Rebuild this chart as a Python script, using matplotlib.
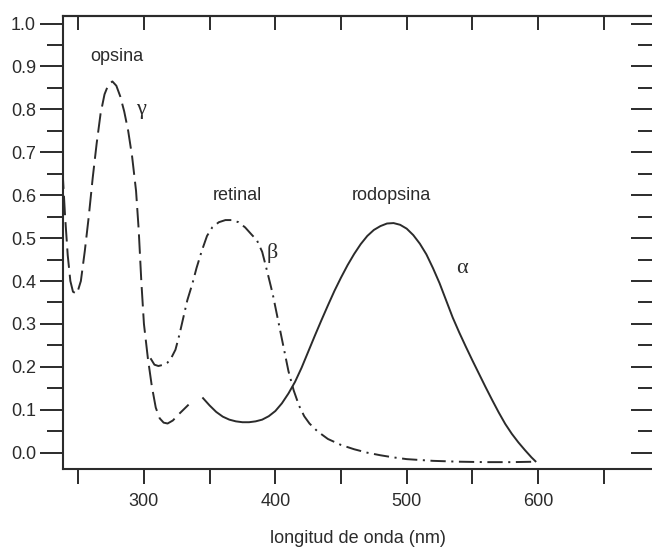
import matplotlib
matplotlib.use('Agg')
import matplotlib.pyplot as plt

# curvas (longitud de onda en nm, absorbancia)
opsina_nm = [238, 240, 242, 244, 246, 249, 252, 255, 258, 261, 264, 267, 270, 273,
             276, 279, 282, 285, 288, 291, 294, 296, 298, 300, 303, 306, 309, 312,
             315, 318, 322, 326, 330, 334]
opsina_abs = [0.66, 0.55, 0.46, 0.40, 0.375, 0.37, 0.40, 0.47, 0.55, 0.64, 0.72, 0.79,
              0.835, 0.858, 0.865, 0.855, 0.83, 0.795, 0.75, 0.69, 0.61, 0.52, 0.40,
              0.30, 0.22, 0.155, 0.105, 0.08, 0.07, 0.068, 0.075, 0.088, 0.10, 0.112]

retinal_nm = [305, 308, 311, 315, 318, 321, 324, 327, 330, 333, 337, 340, 344, 348,
              352, 357, 362, 367, 372, 377, 382, 386, 390, 394, 398, 402, 406, 410,
              414, 418, 422, 426, 432, 440, 450, 460, 470, 480, 490, 500, 520, 540,
              560, 580, 598]
retinal_abs = [0.22, 0.205, 0.202, 0.205, 0.21, 0.222, 0.24, 0.275, 0.315, 0.355,
               0.395, 0.43, 0.47, 0.505, 0.525, 0.537, 0.542, 0.542, 0.537, 0.525,
               0.508, 0.495, 0.468, 0.42, 0.37, 0.31, 0.25, 0.19, 0.145, 0.11, 0.085,
               0.068, 0.05, 0.032, 0.018, 0.008, 0.0, -0.006, -0.011, -0.015, -0.019,
               -0.021, -0.022, -0.022, -0.021]

rodopsina_nm = [345, 350, 355, 360, 365, 370, 375, 380, 385, 390, 395, 400, 405, 410,
                415, 420, 425, 430, 435, 440, 445, 450, 455, 460, 465, 470, 475, 480,
                485, 490, 495, 500, 505, 510, 515, 520, 525, 530, 535, 540, 545, 550,
                555, 560, 565, 570, 575, 580, 585, 590, 595, 598]
rodopsina_abs = [0.127, 0.11, 0.095, 0.084, 0.077, 0.073, 0.071, 0.071, 0.073, 0.077,
                 0.085, 0.097, 0.115, 0.138, 0.165, 0.198, 0.235, 0.272, 0.308, 0.343,
                 0.377, 0.408, 0.437, 0.463, 0.486, 0.505, 0.519, 0.528, 0.534, 0.535,
                 0.531, 0.522, 0.507, 0.487, 0.462, 0.43, 0.395, 0.355, 0.315, 0.28,
                 0.247, 0.215, 0.184, 0.153, 0.123, 0.094, 0.067, 0.044, 0.024, 0.006,
                 -0.011, -0.02]

xticks = [250, 300, 350, 400, 450, 500, 550, 600, 650]
xtick_labels = ['', '300', '', '400', '', '500', '', '600', '']
yticks = [0.0, 0.1, 0.2, 0.3, 0.4, 0.5, 0.6, 0.7, 0.8, 0.9, 1.0]
yticks_minor = [0.05, 0.15, 0.25, 0.35, 0.45, 0.55, 0.65, 0.75, 0.85, 0.95]

plt.rcParams['font.family'] = ['Liberation Sans', 'DejaVu Sans']
plt.rcParams['lines.scale_dashes'] = False

color = '#2b2b2b'
fig = plt.figure(figsize=(6.52, 5.49), dpi=100)
ax = fig.add_axes([63 / 652, 80 / 549, 589 / 652, 453 / 549])

ax.plot(opsina_nm, opsina_abs, color=color, lw=1.4, linestyle=(0, (14, 5)))
ax.plot(retinal_nm, retinal_abs, color=color, lw=1.4, linestyle=(0, (11, 4, 1.5, 4)))
ax.plot(rodopsina_nm, rodopsina_abs, color=color, lw=1.4, linestyle='-')

ax.set_xlim(238.4, 686.7)
ax.set_ylim(-0.038, 1.0175)

ax.set_xticks(xticks)
ax.set_xticklabels(xtick_labels)
ax.set_yticks(yticks)
ax.set_yticklabels([f'{v:.1f}' for v in yticks])
ax.set_yticks(yticks_minor, minor=True)

ax.tick_params(axis='x', direction='out', length=11, width=1.4, pad=6,
               labelsize=13, colors=color)
ax.tick_params(axis='y', which='major', direction='out', length=16.5, width=1.4,
               pad=3, labelsize=13, colors=color)
ax.tick_params(axis='y', which='minor', direction='out', length=11.5, width=1.4,
               colors=color)

for side in ['left', 'bottom', 'top']:
    ax.spines[side].set_linewidth(1.5)
    ax.spines[side].set_color(color)
ax.spines['right'].set_visible(False)

# ticks interiores arriba y a la derecha
top = ax.secondary_xaxis('top')
top.set_xticks(xticks)
top.tick_params(direction='in', length=10, width=1.4, labeltop=False, colors=color)
top.spines['top'].set_linewidth(1.5)
top.spines['top'].set_color(color)

right = ax.secondary_yaxis('right')
right.set_yticks(yticks)
right.set_yticks(yticks_minor, minor=True)
right.tick_params(which='major', direction='in', length=15, width=1.4,
                  labelright=False, colors=color)
right.tick_params(which='minor', direction='in', length=10, width=1.4, colors=color)
right.spines['right'].set_visible(False)

ax.set_xlabel('longitud de onda (nm)', fontsize=13, color=color, labelpad=15)

txt = dict(fontsize=13, color=color, ha='center', va='center')
greek = dict(fontsize=16, color=color, ha='center', va='center',
             family=['Liberation Serif', 'DejaVu Serif'])
ax.text(279.5, 0.922, 'opsina', **txt)
ax.text(297.7, 0.800, 'γ', **greek)
ax.text(371.5, 0.600, 'retinal', **txt)
ax.text(398.0, 0.466, 'β', **greek)
ax.text(488.6, 0.600, 'rodopsina', **txt)
ax.text(541.8, 0.430, 'α', **greek)

fig.savefig('out.png', dpi=100)
